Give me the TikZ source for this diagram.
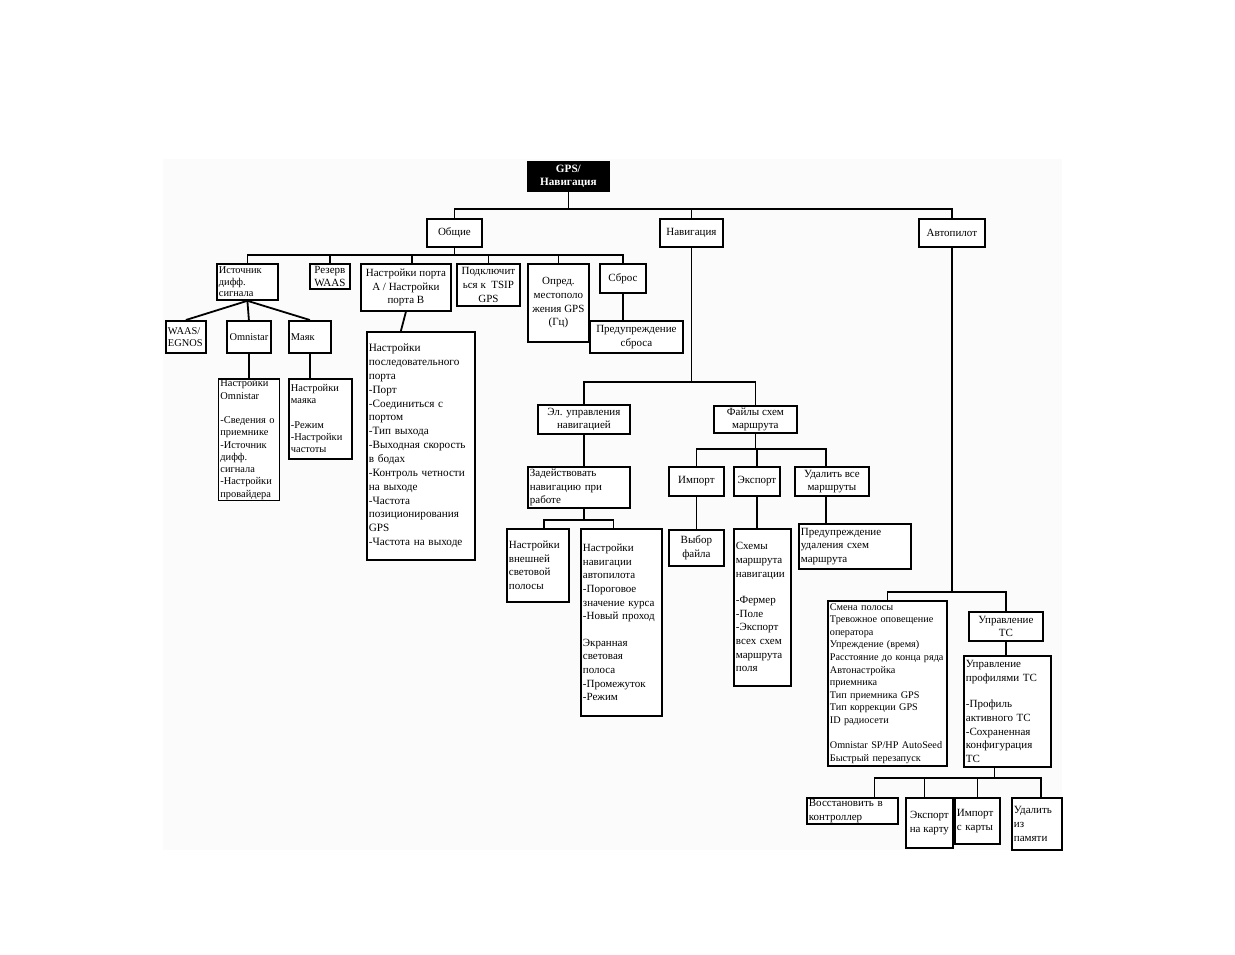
\documentclass[tikz,border=0pt]{standalone}
\usepackage{fontspec}
\setmainfont{Liberation Serif}
\usetikzlibrary{positioning}

\begin{document}
\begin{tikzpicture}[
    x=1pt, y=-1pt,
    box/.style={
        draw,
        line width=1.8pt,
        fill=white,
        anchor=north west,
        inner xsep=2pt,
        inner ysep=1pt,
        font=\fontsize{11}{13.6}\selectfont
    },
    lbox/.style={box, align=left},
    cbox/.style={box, align=center},
    small/.style={font=\fontsize{10.4}{12.3}\selectfont},
    link/.style={line width=1.8pt}
]

\useasboundingbox (0,0) rectangle (1235,954);
\fill[black!1.5] (163,159) rectangle (1062,850);

% --- Корень и первый уровень ---
\node[cbox, fill=black, text=white, font=\bfseries\fontsize{11.2}{13}\selectfont,
      minimum width=81pt, minimum height=29pt] (root) at (527,161) {GPS/\\Навигация};

\node[cbox, minimum width=55pt, minimum height=28pt] (general) at (426,218) {Общие};
\node[cbox, minimum width=63pt, minimum height=28pt] (navig) at (659,218) {Навигация};
\node[cbox, minimum width=66pt, minimum height=28pt] (autop) at (918,218) {Автопилот};

% --- Общие ---
\node[lbox, font=\fontsize{10.4}{11.6}\selectfont, text width=57pt, minimum height=36pt] (diffsrc) at (216,263) {Источник\\дифф.\\сигнала};
\node[cbox, minimum width=40pt, minimum height=25pt] (waasres) at (309,263) {Резерв\\WAAS};
\node[cbox, minimum width=90pt, minimum height=47pt] (portab) at (360,263) {Настройки порта\\A / Настройки\\порта B};
\node[cbox, minimum width=63pt, minimum height=42pt] (tsip) at (456,263) {Подключит\\ься к\ \ TSIP\\GPS};
\node[cbox, minimum width=61pt, minimum height=78pt] (gpsrate) at (527,263) {Опред.\\местополо\\жения GPS\\(Гц)};
\node[cbox, minimum width=46pt, minimum height=29pt] (reset) at (599,263) {Сброс};
\node[cbox, minimum width=93pt, minimum height=32pt] (resetwarn) at (589,320) {Предупреждение\\сброса};

\node[lbox, small, text width=36pt, minimum height=32pt] (waas) at (165,320) {WAAS/\\EGNOS};
\node[cbox, small, minimum width=44pt, minimum height=32pt] (omni) at (226,320) {Omnistar};
\node[lbox, small, text width=38pt, minimum height=32pt] (beacon) at (288,320) {Маяк};

\node[lbox, small, text width=57pt, minimum height=121pt, below=24pt of omni] (omniset)
    {Настройки\\Omnistar\\[12pt]-Сведения о\\приемнике\\-Источник\\дифф.\\сигнала\\-Настройки\\провайдера};
\node[lbox, small, text width=59pt, minimum height=80pt, below=24pt of beacon.south west, anchor=north west] (beaconset)
    {Настройки\\маяка\\[12pt]-Режим\\-Настройки\\частоты};

\node[lbox, font=\fontsize{11.2}{13.85}\selectfont, text width=104pt, minimum height=228pt] (serial) at (366,331)
    {Настройки\\последовательного\\порта\\-Порт\\-Соединиться с\\портом\\-Тип выхода\\-Выходная скорость\\в бодах\\-Контроль четности\\на выходе\\-Частота\\позиционирования\\GPS\\-Частота на выходе};

% --- Навигация ---
\node[cbox, minimum width=92pt, minimum height=29pt] (elctl) at (537,404) {Эл. управления\\навигацией};
\node[cbox, minimum width=83pt, minimum height=27pt] (routes) at (713,405) {Файлы схем\\маршрута};
\node[lbox, text width=98pt, minimum height=41pt] (engage) at (527,466) {Задействовать\\навигацию при\\работе};
\node[lbox, text width=58pt, minimum height=73pt] (extbar) at (506,528) {Настройки\\внешней\\световой\\полосы};
\node[lbox, text width=77pt, minimum height=187pt] (apnav) at (580,528)
    {Настройки\\навигации\\автопилота\\-Пороговое\\значение курса\\-Новый проход\\[13pt]Экранная\\световая\\полоса\\-Промежуток\\-Режим};

\node[cbox, minimum width=55pt, minimum height=29pt] (import) at (668,466) {Импорт};
\node[cbox, minimum width=46pt, minimum height=29pt] (export) at (733,466) {Экспорт};
\node[cbox, minimum width=74pt, minimum height=29pt] (delall) at (794,466) {Удалить все\\маршруты};
\node[cbox, minimum width=55pt, minimum height=36pt, below=32pt of import] (pickfile) {Выбор\\файла};
\node[lbox, text width=53pt, minimum height=157pt, below=31pt of export.south west, anchor=north west] (exportsch)
    {Схемы\\маршрута\\навигации\\[13pt]-Фермер\\-Поле\\-Экспорт\\всех схем\\маршрута\\поля};
\node[lbox, text width=108pt, minimum height=45pt] (delwarn) at (798,523) {Предупреждение\\удаления схем\\маршрута};

% --- Автопилот ---
\node[lbox, font=\fontsize{10.2}{12.6}\selectfont, text width=115pt, minimum height=165pt] (apset) at (827,600)
    {Смена полосы\\Тревожное оповещение\\оператора\\Упреждение (время)\\Расстояние до конца ряда\\Автонастройка\\приемника\\Тип приемника GPS\\Тип коррекции GPS\\ID радиосети\\[12.6pt]Omnistar SP/HP AutoSeed\\Быстрый перезапуск};
\node[cbox, minimum width=74pt, minimum height=29pt] (vehctl) at (968,611) {Управление\\ТС};
\node[lbox, text width=83pt, minimum height=111pt] (vehprof) at (963,655)
    {Управление\\профилями ТС\\[13pt]-Профиль\\активного ТС\\-Сохраненная\\конфигурация\\ТС};

\node[lbox, text width=87pt, minimum height=26pt] (restore) at (806,797) {Восстановить в\\контроллер};
\node[cbox, minimum width=47pt, minimum height=50pt] (expmap) at (905,797) {Экспорт\\на карту};
\node[lbox, text width=41pt, minimum height=46pt] (impmap) at (954,797) {Импорт\\с карты};
\node[lbox, text width=46pt, minimum height=52pt] (delmem) at (1011,797) {Удалить\\из\\памяти};

% --- Связи: корень ---
\coordinate (bus0) at ([yshift=-17pt]root.south);
\draw[link] (root.south) -- (bus0);
\draw[link] (general.north) |- (bus0) -| (autop.north);
\draw[link] (navig.north) -- (navig.north |- bus0);

% --- Связи: Общие ---
\coordinate (bus1) at ([yshift=-7pt]general.south);
\coordinate (portin) at ([xshift=6pt]portab.north);
\draw[link] (general.south) -- (bus1);
\draw[link] (diffsrc.north) |- (bus1) -| (reset.north);
\foreach \n in {waasres, tsip, gpsrate}
    \draw[link] (\n.north) -- (\n.north |- bus1);
\draw[link] (portin) -- (portin |- bus1);
\foreach \n in {waas, omni, beacon}
    \draw[link] (diffsrc.south) -- (\n.north);
\draw[link] (omni.south) -- (omni.south |- omniset.north);
\draw[link] (beacon.south) -- (beacon.south |- beaconset.north);
\draw[link] (portab.south) -- ([xshift=-20pt]serial.north);
\draw[link] (reset.south) -- (reset.south |- resetwarn.north);

% --- Связи: Навигация ---
\coordinate (bus2) at ([yshift=-134pt]navig.south);
\draw[link] (navig.south) -- (bus2);
\draw[link] (elctl.north) |- (bus2) -| (routes.north);
\draw[link] (elctl.south) -- (elctl.south |- engage.north);
\coordinate (engbot) at (elctl.south |- engage.south);
\coordinate (bus3) at ([yshift=-11pt]engbot);
\coordinate (extin) at ([xshift=6pt]extbar.north);
\coordinate (apin) at ([xshift=-8pt]apnav.north);
\draw[link] (engbot) -- (bus3);
\draw[link] (extin) |- (bus3) -| (apin);

\coordinate (bus4) at ([yshift=-15pt]routes.south);
\coordinate (delin) at ([xshift=-6pt]delall.north);
\coordinate (delout) at ([xshift=-6pt]delall.south);
\draw[link] (routes.south) -- (bus4);
\draw[link] (import.north) |- (bus4) -| (delin);
\draw[link] (export.north) -- (export.north |- bus4);
\draw[link] (import.south) -- (pickfile.north);
\draw[link] (export.south) -- (export.south |- exportsch.north);
\draw[link] (delout) -- (delout |- delwarn.north);

% --- Связи: Автопилот ---
\coordinate (bus5) at ([yshift=-344pt]autop.south);
\draw[link] (autop.south) -- (bus5);
\draw[link] (apset.north) |- (bus5) -| (vehctl.north);
\draw[link] (vehctl.south) -- (vehctl.south |- vehprof.north);

\coordinate (profout) at ([xshift=-13pt]vehprof.south);
\coordinate (bus6) at ([yshift=-10pt]profout);
\coordinate (restin) at ([xshift=22pt]restore.north);
\coordinate (expin) at ([xshift=-5pt]expmap.north);
\coordinate (memin) at ([xshift=4pt]delmem.north);
\draw[link] (profout) -- (bus6);
\draw[link] (restin) |- (bus6) -| (memin);
\draw[link] (expin) -- (expin |- bus6);
\draw[link] (impmap.north) -- (impmap.north |- bus6);

\end{tikzpicture}
\end{document}
